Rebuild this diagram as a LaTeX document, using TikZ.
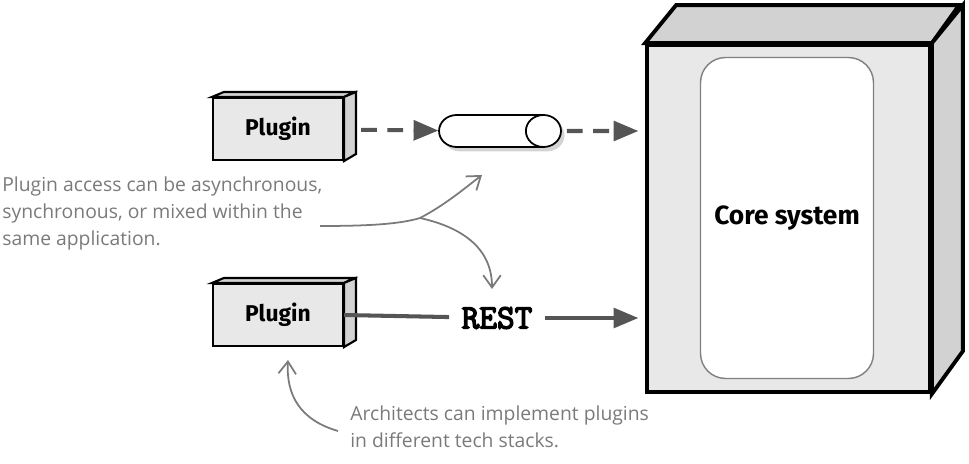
\documentclass[tikz,border=0pt]{standalone}
\usepackage{fontspec}
\usepackage{tikz}
\usetikzlibrary{arrows, arrows.meta, shapes.geometric, shadows}
\newfontfamily\restfont{Latin Modern Mono}[FakeBold=4]
\newfontfamily\handfont{Open Sans}
\newfontfamily\boxfont{Fira Sans}
\definecolor{flowgray}{HTML}{555555}
\definecolor{notegray}{HTML}{7A7A7A}
\definecolor{boxgray}{HTML}{E8E8E8}
\definecolor{facegray}{HTML}{D2D2D2}

\tikzset{
  plugbox/.style={draw, line width=1.2pt, fill=boxgray, minimum width=2.6cm,
    minimum height=1.24cm, font=\boxfont\bfseries\fontsize{13}{15}\selectfont},
  face/.style={draw, line width=1.2pt, fill=facegray},
  flow/.style={draw=flowgray, line width=2.3pt, >=triangle 45, ->},
  note/.style={draw=notegray, line width=1pt, -{Straight Barb[length=7pt,width=10pt]}},
  notetext/.style={text=notegray, font=\handfont\fontsize{11}{15.5}\selectfont,
    align=left, inner sep=0pt}
}

\begin{document}
\begin{tikzpicture}[x=0.02cm, y=-0.02cm]
\useasboundingbox (0,0) rectangle (969,463);

% core system block
\node[draw, line width=2.2pt, fill=boxgray, minimum width=5.66cm,
  minimum height=6.94cm] (core) at (788.5,218.5) {};
\draw[face, line width=2.2pt] (core.north west) -- ++(31,-38) -- ++(283,0)
  -- (core.north east) -- cycle;
\draw[face, line width=2.2pt] (core.north east) -- ++(31,-38) -- ++(0,346)
  -- (core.south east) -- cycle;
\node[draw=gray, line width=0.8pt, fill=white, rounded corners=0.5cm,
  minimum width=3.46cm, minimum height=6.42cm,
  font=\boxfont\bfseries\fontsize{15}{17}\selectfont] (inner) at (787,218) {Core system};

% plugins
\node[plugbox] (plugA) at (278,129) {Plugin};
\node[plugbox] (plugB) at (278,315) {Plugin};
\foreach \p in {plugA, plugB} {
  \draw[face] (\p.north west) -- ++(12,-5) -- ++(130,0) -- (\p.north east) -- cycle;
  \draw[face] (\p.north east) -- ++(12,-5) -- ++(0,62) -- (\p.south east) -- cycle;
}

% queue
\node[cylinder, draw, line width=1pt, fill=white, aspect=3,
  minimum width=0.64cm, minimum height=2.44cm, drop shadow={opacity=0.35,
  shadow xshift=2pt, shadow yshift=-2.5pt}] (queue) at (484,131) {};

\node[font=\restfont\fontsize{19.5}{21}\selectfont, inner sep=7pt] (rest) at (497,318) {REST};

% connectors
\draw[flow, dashed, dash pattern=on 9pt off 6pt, shorten <=0.34cm] (plugA) -- (queue);
\draw[flow, dashed, dash pattern=on 9pt off 6pt, shorten <=0.1cm, shorten >=0.14cm]
  (queue) -- (queue -| core.west);
\draw[flow, -] (plugB.east) -- (rest);
\draw[flow, shorten >=0.14cm] (rest) -- (rest -| core.west);

% notes
\node[notetext, anchor=north west] (noteA) at (2,176)
  {Plugin access can be asynchronous,\\synchronous, or mixed within the\\same application.};
\node[notetext, anchor=north west] (noteB) at (350,405)
  {Architects can implement plugins\\in different tech stacks.};

\coordinate (noteAend) at (320,226);
\coordinate (split) at (420,218);
\coordinate (tipQ) at (482,175);
\coordinate (tipR) at (492,289);
\coordinate (noteBstart) at (338,431);
\coordinate (tipP) at (288,360);

\draw[draw=notegray, line width=1pt] (noteAend) .. controls (370,226) and (400,224) .. (split);
\draw[note] (split) .. controls (445,205) and (465,188) .. (tipQ);
\draw[note] (split) .. controls (465,228) and (492,250) .. (tipR);
\draw[note] (noteBstart) .. controls (300,420) and (286,395) .. (tipP);
\end{tikzpicture}
\end{document}
